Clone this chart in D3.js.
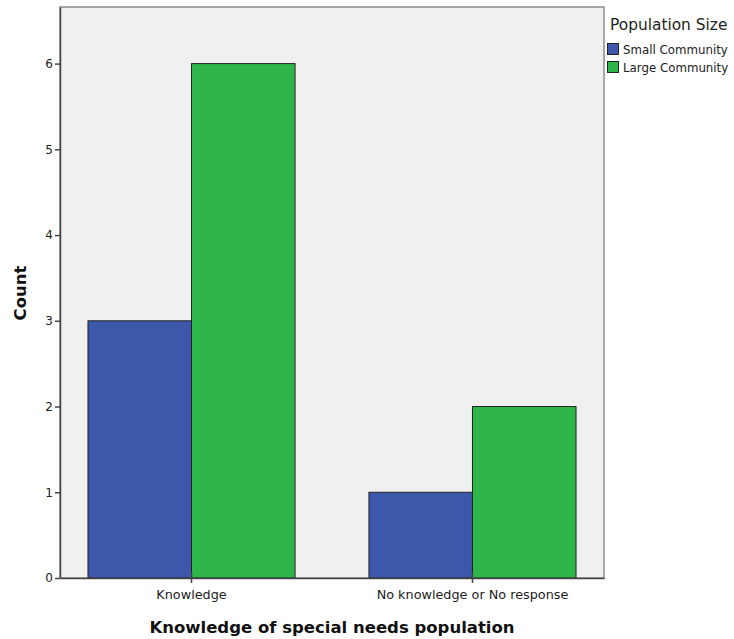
<!DOCTYPE html>
<html><head><meta charset="utf-8">
<script src="https://cdn.jsdelivr.net/npm/d3@7"></script>
<style>body{margin:0;background:#fff}svg{display:block}</style>
</head><body>
<svg id="c" width="734" height="639"></svg>
<script>
const categories = ["Knowledge", "No knowledge or No response"];
const seriesNames = ["Small Community", "Large Community"];
const smallValues = [3, 1];
const largeValues = [6, 2];
const yTicks = [0, 1, 2, 3, 4, 5, 6];
const colors = ["#3d58ab", "#2fb64a"];

const svg = d3.select("#c");
const m = {l: 60, t: 7, r: 604, b: 578};
const font = "'DejaVu Sans', Verdana, sans-serif";

const x = d3.scaleBand().domain(categories).range([m.l, m.r]).paddingInner(0.263).paddingOuter(0.0996);
const y = d3.scaleLinear().domain([0, 6.66]).range([m.b, m.t]);
const xs = d3.scaleBand().domain(seriesNames).range([0, x.bandwidth()]).padding(0);

svg.append("rect").attr("x", m.l).attr("y", m.t).attr("width", m.r - m.l).attr("height", m.b - m.t)
  .attr("fill", "#f0f0f0").attr("stroke", "#8c8c8c").attr("stroke-width", 1.5);

const data = categories.map((c, i) => ({c, vals: [smallValues[i], largeValues[i]]}));
const g = svg.append("g");
data.forEach(d => {
  d.vals.forEach((v, j) => {
    g.append("rect")
      .attr("x", x(d.c) + xs(seriesNames[j]))
      .attr("y", y(v))
      .attr("width", xs.bandwidth())
      .attr("height", y(0) - y(v))
      .attr("fill", colors[j]).attr("stroke", "#222").attr("stroke-width", 1);
  });
});

const ya = svg.append("g").attr("transform", `translate(${m.l},0)`)
  .call(d3.axisLeft(y).tickValues(yTicks).tickFormat(d3.format("d")).tickSize(5).tickSizeOuter(0));
ya.select(".domain").attr("stroke", "#444").attr("stroke-width", 1.5);
ya.selectAll(".tick line").attr("stroke", "#444").attr("stroke-width", 1.5);
ya.selectAll("text").attr("font-family", font).attr("font-size", 12).attr("fill", "#222").attr("dx", 1);

const xa = svg.append("g").attr("transform", `translate(0,${m.b})`)
  .call(d3.axisBottom(x).tickSize(10).tickSizeOuter(0));
xa.select(".domain").attr("stroke", "#444").attr("stroke-width", 1.5);
xa.selectAll(".tick line").attr("stroke", "#444").attr("stroke-width", 1.5).attr("y1", -5).attr("y2", 5);
xa.selectAll("text").attr("font-family", font).attr("font-size", 12.8).attr("fill", "#222").attr("y", 12);

svg.append("text").attr("x", 332).attr("y", 633).attr("text-anchor", "middle")
  .attr("font-family", font).attr("font-weight", "bold").attr("font-size", 16.5)
  .attr("fill", "#111").text("Knowledge of special needs population");
svg.append("text").attr("transform", "translate(26,293) rotate(-90)").attr("text-anchor", "middle")
  .attr("font-family", font).attr("font-weight", "bold").attr("font-size", 16.5)
  .attr("fill", "#111").text("Count");

const lg = svg.append("g");
lg.append("text").attr("x", 610).attr("y", 30).attr("font-family", font).attr("font-size", 15.4)
  .attr("fill", "#222").text("Population Size");
seriesNames.forEach((s, i) => {
  lg.append("rect").attr("x", 607.5).attr("y", 43.5 + i * 18).attr("width", 11).attr("height", 11)
    .attr("fill", colors[i]).attr("stroke", "#222");
  lg.append("text").attr("x", 623).attr("y", 54 + i * 18).attr("font-family", font).attr("font-size", 11.8)
    .attr("fill", "#222").text(s);
});
</script>
</body></html>
